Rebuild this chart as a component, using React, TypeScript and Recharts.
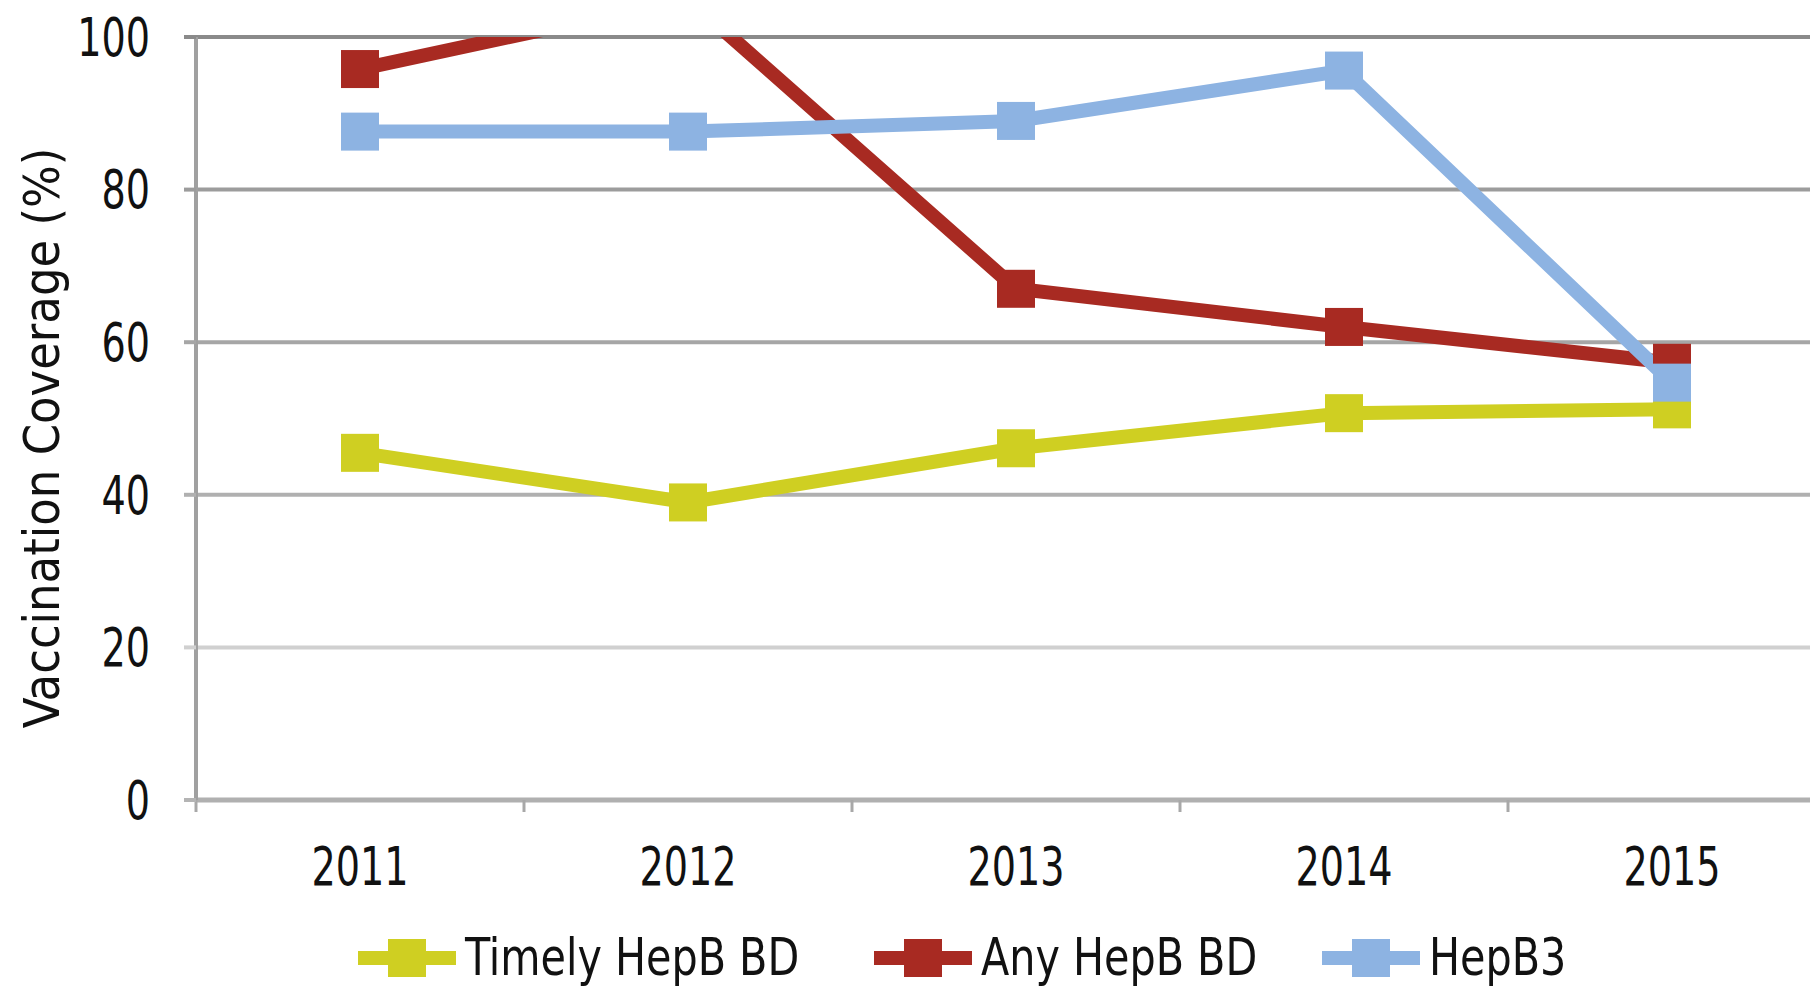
import React from 'react';
import { LineChart, Line, XAxis, YAxis, ReferenceLine } from 'recharts';

const years = ['2011', '2012', '2013', '2014', '2015'];
const timelyHepBBD = [45.5, 39.0, 46.1, 50.7, 51.2];
const anyHepBBD = [95.8, 105.0, 67.0, 62.0, 57.3];
const hepB3 = [87.6, 87.6, 89.0, 95.6, 54.7];
const yTicks = [0, 20, 40, 60, 80, 100];
const seriesNames = ['Timely HepB BD', 'Any HepB BD', 'HepB3'];
const seriesKeys = ['timely', 'any', 'hepb3'];
const yLabel = 'Vaccination Coverage (%)';

const COLORS = ['#cfcf22', '#a82a22', '#8db3e2'];
const GRID_COLORS: Record<number, string> = {
  0: '#b4b4b4',
  20: '#d0d0d0',
  40: '#b0b0b0',
  60: '#a6a6a6',
  80: '#9c9c9c',
  100: '#8a8a8a',
};
const LEGEND_LEFT = [358, 874, 1322];
const FONT = '"DejaVu Sans Condensed", "DejaVu Sans", sans-serif';
const TEXT = '#111111';
const TICK_FS = 53;
const TICK_SX = 0.8;
const LEGEND_FS = 51;
const LEGEND_SX = 0.9;
const LABEL_FS = 50;
const MARK = 38;

const data = years.map((y, i) => ({
  year: y,
  timely: timelyHepBBD[i],
  any: anyHepBBD[i],
  hepb3: hepB3[i],
}));

const squareDot = (color: string) => (p: any) => {
  if (p.cx == null || p.cy == null) return <g key={p.index} />;
  return (
    <rect
      key={p.index}
      x={p.cx - MARK / 2}
      y={p.cy - MARK / 2}
      width={MARK}
      height={MARK}
      fill={color}
    />
  );
};

const XTick = (p: any) => {
  const off = p.payload && p.payload.offset != null ? p.payload.offset : 0;
  return (
    <g>
      <line x1={p.x - off} x2={p.x - off} y1={p.y} y2={p.y + 12} stroke="#a8a8a8" strokeWidth={3} />
      <text
        x={0}
        y={0}
        transform={`translate(${p.x} ${p.y + 66}) scale(${TICK_SX} 1)`}
        textAnchor="middle"
        dominantBaseline="central"
        fontFamily={FONT}
        fontSize={TICK_FS}
        fill={TEXT}
      >
        {p.payload.value}
      </text>
    </g>
  );
};

const YTick = (p: any) => {
  const v = p.payload.value;
  return (
    <g>
      <line x1={p.x - 12} x2={p.x} y1={p.y} y2={p.y} stroke={GRID_COLORS[v] || '#a6a6a6'} strokeWidth={4} />
      <text
        x={0}
        y={0}
        transform={`translate(${p.x - 46} ${p.y}) scale(${TICK_SX} 1)`}
        textAnchor="end"
        dominantBaseline="central"
        fontFamily={FONT}
        fontSize={TICK_FS}
        fill={TEXT}
      >
        {v}
      </text>
    </g>
  );
};

const YLabel = () => (
  <text
    x={42}
    y={438}
    transform="rotate(-90, 42, 438)"
    textAnchor="middle"
    dominantBaseline="central"
    fontFamily={FONT}
    fontSize={LABEL_FS}
    fill={TEXT}
  >
    {yLabel}
  </text>
);

const LegendBox = () => (
  <div style={{ position: 'absolute', left: 0, top: 932, width: 1810, height: 52 }}>
    {seriesNames.map((name, i) => (
      <div
        key={name}
        style={{
          position: 'absolute',
          left: LEGEND_LEFT[i],
          top: 0,
          height: 52,
          display: 'flex',
          alignItems: 'center',
          whiteSpace: 'nowrap',
        }}
      >
        <svg width={98} height={40} style={{ marginRight: 9, flex: 'none' }}>
          <line x1={0} x2={98} y1={20} y2={20} stroke={COLORS[i]} strokeWidth={14} />
          <rect x={49 - 19} y={1} width={38} height={38} fill={COLORS[i]} />
        </svg>
        <span
          style={{
            display: 'inline-block',
            fontFamily: FONT,
            fontSize: LEGEND_FS,
            lineHeight: '52px',
            color: TEXT,
            transform: `scaleX(${LEGEND_SX})`,
            transformOrigin: 'left center',
          }}
        >
          {name}
        </span>
      </div>
    ))}
  </div>
);

export default function App() {
  return (
    <div
      style={{
        position: 'absolute',
        left: 0,
        top: 0,
        width: 1810,
        height: 988,
        overflow: 'hidden',
        background: '#ffffff',
      }}
    >
      <LineChart
        width={1840}
        height={988}
        data={data}
        margin={{ top: 37, right: 4, left: 0, bottom: 88 }}
      >
        {yTicks.map((t) => (
          <ReferenceLine key={t} y={t} stroke={GRID_COLORS[t]} strokeWidth={4} ifOverflow="visible" />
        ))}
        <XAxis
          dataKey="year"
          scale="band"
          interval={0}
          height={100}
          axisLine={{ stroke: '#b0b0b0', strokeWidth: 5 }}
          tickLine={false}
          tickSize={0}
          tickMargin={0}
          tick={<XTick />}
        />
        <YAxis
          width={196}
          domain={[0, 100]}
          ticks={yTicks}
          allowDataOverflow
          axisLine={{ stroke: '#a0a0a0', strokeWidth: 4 }}
          tickLine={false}
          tickSize={0}
          tickMargin={0}
          tick={<YTick />}
          label={{ content: () => <YLabel /> }}
        />
        {seriesKeys.map((k, i) => (
          <Line
            key={k}
            dataKey={k}
            name={seriesNames[i]}
            stroke={COLORS[i]}
            strokeWidth={14}
            dot={squareDot(COLORS[i])}
            activeDot={false}
            isAnimationActive={false}
          />
        ))}
      </LineChart>
      <LegendBox />
    </div>
  );
}
